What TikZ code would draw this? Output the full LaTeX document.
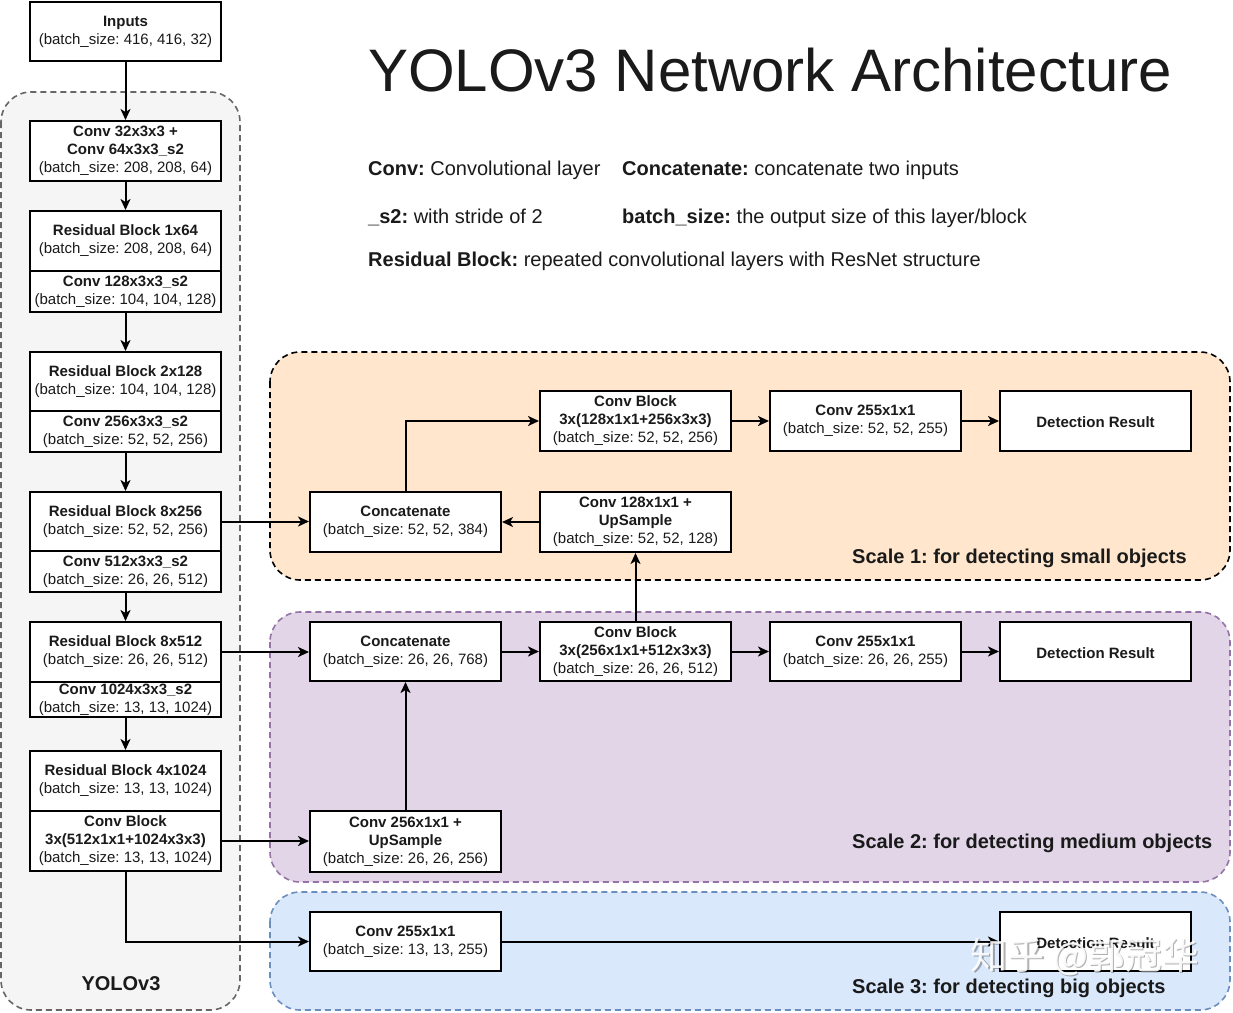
\documentclass[tikz,border=0pt]{standalone}
\usepackage{fontspec}
\setmainfont{Liberation Sans}
\newfontfamily\cjk{Noto Sans CJK SC}
\usetikzlibrary{arrows.meta,positioning,calc}
\frenchspacing
\definecolor{txt}{HTML}{1A1A1A}
\definecolor{yologray}{HTML}{F5F5F5}
\definecolor{yoloedge}{HTML}{666666}
\definecolor{sonefill}{HTML}{FFE6CC}
\definecolor{stwofill}{HTML}{E1D5E7}
\definecolor{stwoedge}{HTML}{9673A6}
\definecolor{sthreefill}{HTML}{DAE8FC}
\definecolor{sthreeedge}{HTML}{6C8EBF}
\tikzset{
  blk/.style={draw=black, line width=2pt, fill=white, minimum width=191pt,
    align=center, inner sep=0pt, text=txt, font=\fontsize{15}{18}\selectfont,
    execute at begin node={\rule{0pt}{14pt}}},
  conn/.style={line width=2pt, draw=black, -{Stealth[length=11pt,width=10pt,inset=3pt]}},
  grp/.style={line width=1.6pt, dash pattern=on 6pt off 4pt, rounded corners=30pt},
  legend/.style={anchor=base west, inner sep=0pt, text=txt, font=\fontsize{20}{24}\selectfont},
  scalelbl/.style={anchor=base west, inner sep=0pt, text=txt, font=\bfseries\fontsize{20}{24}\selectfont},
}
\begin{document}
\begin{tikzpicture}[x=1pt,y=-1pt]
\useasboundingbox (0,0) rectangle (1233,1012);
% group containers
\draw[grp, draw=yoloedge, fill=yologray] (1,92) rectangle (240,1010);
\draw[grp, draw=black, fill=sonefill] (270,352) rectangle (1230,580);
\draw[grp, draw=stwoedge, fill=stwofill] (270,612) rectangle (1230,882);
\draw[grp, draw=sthreeedge, fill=sthreefill] (270,892) rectangle (1230,1010);

% title and legend
\node[legend, font=\fontsize{60}{70}\selectfont] (title) at (368,91) {YOLOv3 Network Architecture};
\node[legend] (leg1) at (368,175) {\textbf{Conv:} Convolutional layer};
\node[legend] (leg2) at (622,175) {\textbf{Concatenate:} concatenate two inputs};
\node[legend] (leg3) at (368,223) {\textbf{\_s2:} with stride of 2};
\node[legend] (leg4) at (622,223) {\textbf{batch\_size:} the output size of this layer/block};
\node[legend] (leg5) at (368,266) {\textbf{Residual Block:} repeated convolutional layers with ResNet structure};

% backbone
\node[blk, minimum height=59pt] (inp) at (125.5,31.5) {\textbf{Inputs}\\(batch\_size: 416, 416, 32)};
\node[blk, minimum height=60pt] (c1) at (125.5,151) {\textbf{Conv 32x3x3 +}\\\textbf{Conv 64x3x3\_s2}\\(batch\_size: 208, 208, 64)};
\node[blk, minimum height=60pt] (r1) at (125.5,241) {\textbf{Residual Block 1x64}\\(batch\_size: 208, 208, 64)};
\node[blk, minimum height=41pt] (r1c) at (125.5,291.5) {\textbf{Conv 128x3x3\_s2}\\(batch\_size: 104, 104, 128)};
\node[blk, minimum height=59pt] (r2) at (125.5,381.5) {\textbf{Residual Block 2x128}\\(batch\_size: 104, 104, 128)};
\node[blk, minimum height=41pt] (r2c) at (125.5,431.5) {\textbf{Conv 256x3x3\_s2}\\(batch\_size: 52, 52, 256)};
\node[blk, minimum height=59pt] (r3) at (125.5,521.5) {\textbf{Residual Block 8x256}\\(batch\_size: 52, 52, 256)};
\node[blk, minimum height=41pt] (r3c) at (125.5,571.5) {\textbf{Conv 512x3x3\_s2}\\(batch\_size: 26, 26, 512)};
\node[blk, minimum height=60pt] (r4) at (125.5,652) {\textbf{Residual Block 8x512}\\(batch\_size: 26, 26, 512)};
\node[blk, minimum height=35pt] (r4c) at (125.5,699.5) {\textbf{Conv 1024x3x3\_s2}\\(batch\_size: 13, 13, 1024)};
\node[blk, minimum height=60pt] (r5) at (125.5,781) {\textbf{Residual Block 4x1024}\\(batch\_size: 13, 13, 1024)};
\node[blk, minimum height=60pt] (r5c) at (125.5,841) {\textbf{Conv Block}\\\textbf{3x(512x1x1+1024x3x3)}\\(batch\_size: 13, 13, 1024)};
\node[anchor=base, inner sep=0pt, text=txt, font=\bfseries\fontsize{20}{24}\selectfont] (yololbl) at (121,990) {YOLOv3};

% scale 1
\node[blk, minimum height=60pt] (cat1) at (405.5,522) {\textbf{Concatenate}\\(batch\_size: 52, 52, 384)};
\node[blk, minimum height=60pt] (cb1) at (635.5,421) {\textbf{Conv Block}\\\textbf{3x(128x1x1+256x3x3)}\\(batch\_size: 52, 52, 256)};
\node[blk, minimum height=60pt] (up1) at (635.5,522) {\textbf{Conv 128x1x1 +}\\\textbf{UpSample}\\(batch\_size: 52, 52, 128)};
\node[blk, minimum height=60pt] (cv1) at (865.5,421) {\textbf{Conv 255x1x1}\\(batch\_size: 52, 52, 255)};
\node[blk, minimum height=60pt] (det1) at (1095.5,421) {\textbf{Detection Result}};
\node[scalelbl] (s1lbl) at (852,563) {Scale 1: for detecting small objects};

% scale 2
\node[blk, minimum height=59pt] (cat2) at (405.5,651.5) {\textbf{Concatenate}\\(batch\_size: 26, 26, 768)};
\node[blk, minimum height=59pt] (cb2) at (635.5,651.5) {\textbf{Conv Block}\\\textbf{3x(256x1x1+512x3x3)}\\(batch\_size: 26, 26, 512)};
\node[blk, minimum height=59pt] (cv2) at (865.5,651.5) {\textbf{Conv 255x1x1}\\(batch\_size: 26, 26, 255)};
\node[blk, minimum height=59pt] (det2) at (1095.5,651.5) {\textbf{Detection Result}};
\node[blk, minimum height=61pt] (up2) at (405.5,841.5) {\textbf{Conv 256x1x1 +}\\\textbf{UpSample}\\(batch\_size: 26, 26, 256)};
\node[scalelbl] (s2lbl) at (852,848) {Scale 2: for detecting medium objects};

% scale 3
\node[blk, minimum height=59pt] (cv3) at (405.5,941.5) {\textbf{Conv 255x1x1}\\(batch\_size: 13, 13, 255)};
\node[blk, minimum height=59pt] (det3) at (1095.5,941.5) {\textbf{Detection Result}};
\node[scalelbl] (s3lbl) at (852,993) {Scale 3: for detecting big objects};

% connectors
\draw[conn] (inp) -- (c1);
\draw[conn] (c1) -- (r1);
\draw[conn] (r1c) -- (r2);
\draw[conn] (r2c) -- (r3);
\draw[conn] (r3c) -- (r4);
\draw[conn] (r4c) -- (r5);
\draw[conn] (r3.east) -- (r3.east -| cat1.west);
\draw[conn] (r4.east) -- (r4.east -| cat2.west);
\draw[conn] (r5c.east) -- (r5c.east -| up2.west);
\draw[conn] (r5c.south) |- (cv3.west);
\draw[conn] (cat1.north) |- (cb1.west);
\draw[conn] (up1.west) -- (cat1.east);
\draw[conn] (cb1.east) -- (cv1.west);
\draw[conn] (cv1.east) -- (det1.west);
\draw[conn] (cb2.north) -- (up1.south);
\draw[conn] (up2.north) -- (cat2.south);
\draw[conn] (cat2.east) -- (cb2.west);
\draw[conn] (cb2.east) -- (cv2.west);
\draw[conn] (cv2.east) -- (det2.west);
\draw[conn] (cv3.east) -- (det3.west);

% watermark
\node[inner sep=0pt, text=black, opacity=0.3, font=\cjk\fontsize{37}{40}\selectfont] (wmshadow) at (1086.5,958.5) {知乎 @郭冠华};
\node[inner sep=0pt, text=white, opacity=0.9, font=\cjk\fontsize{37}{40}\selectfont] (wm) at (1085,957) {知乎 @郭冠华};
\end{tikzpicture}
\end{document}
